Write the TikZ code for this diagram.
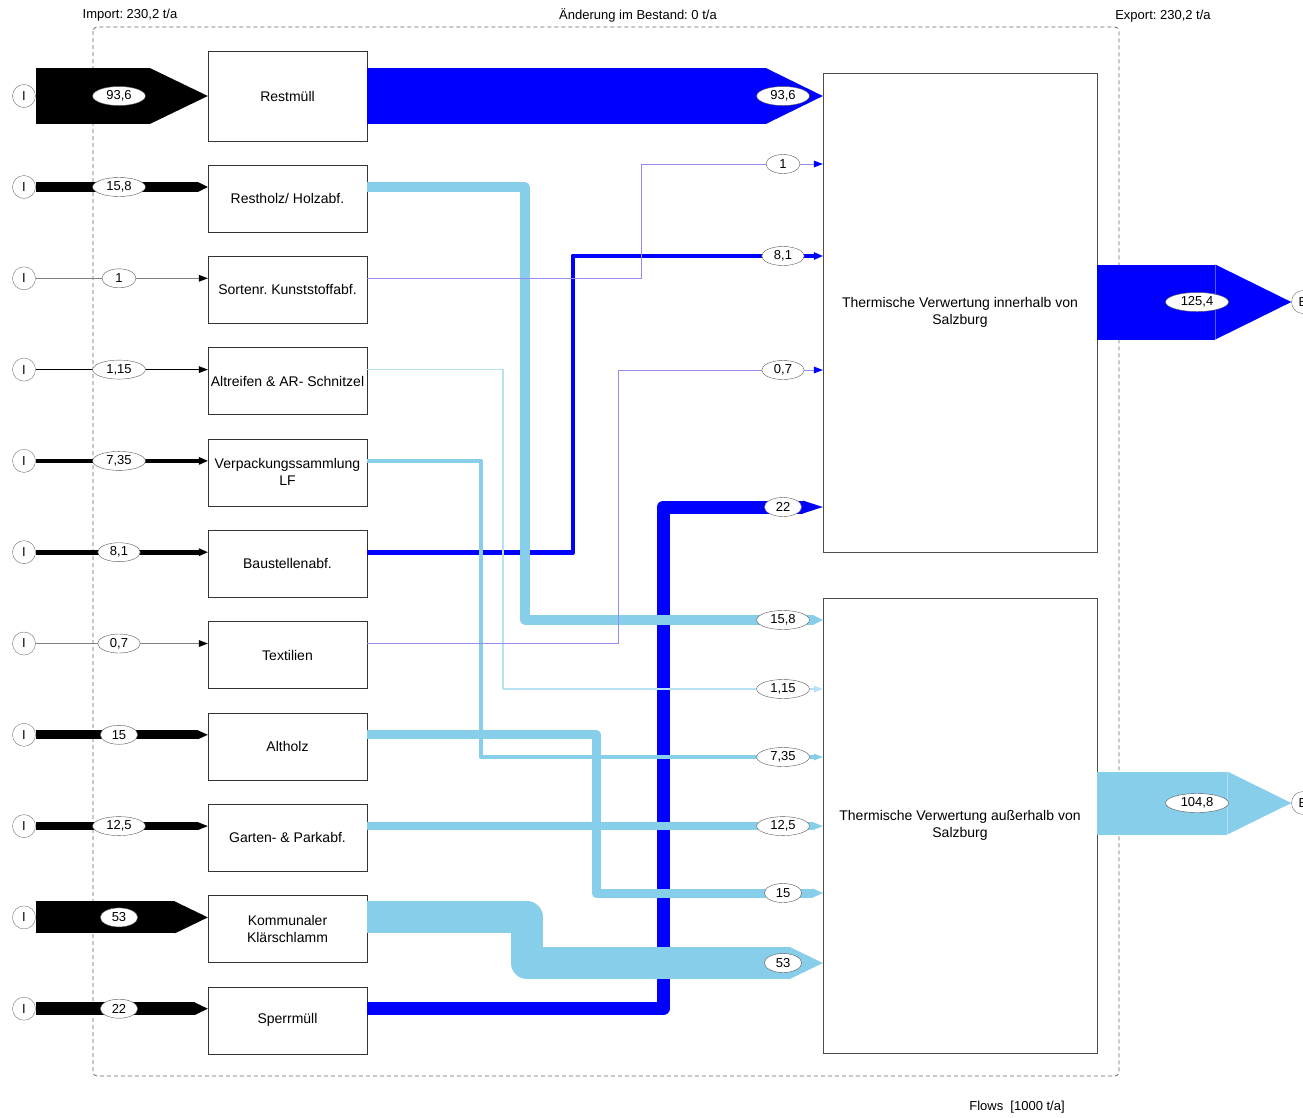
\documentclass[tikz,border=0pt]{standalone}
\usepackage{fontspec}
\setmainfont{Liberation Sans}
\usetikzlibrary{arrows.meta,shapes.geometric}
\frenchspacing

\definecolor{flowblue}{RGB}{0,0,255}
\definecolor{flowsky}{RGB}{135,206,235}
\definecolor{thinblue}{RGB}{150,140,240}

\begin{document}
\begin{tikzpicture}[x=1pt,y=-1pt]
\tikzstyle{proc} = [rectangle, draw=black!80, minimum width=159pt, minimum height=67pt, inner sep=1pt, align=center, font=\fontsize{14}{17}\selectfont, node distance=91.3pt]
\tikzstyle{sink} = [rectangle, draw=black!70, minimum width=274pt, align=center, font=\fontsize{14}{17}\selectfont]
\tikzstyle{src} = [circle, draw=black!55, fill=white, minimum size=23pt, inner sep=0pt, font=\fontsize{13}{15}\selectfont]
\tikzstyle{val} = [ellipse, draw=black!65, fill=white, minimum width=34pt, minimum height=19pt, inner xsep=6pt, inner ysep=0pt, font=\fontsize{13}{15}\selectfont]
\tikzstyle{info} = [font=\fontsize{13}{15}\selectfont]
\tikzstyle{imp} = [draw=black, line join=round]
\tikzstyle{thinimp} = [draw=black!50, line width=1pt, -{Triangle[length=9pt, width=7pt, line width=0pt, color=black]}]
\tikzstyle{bflow} = [draw=flowblue, line join=round]
\tikzstyle{sflow} = [draw=flowsky, line join=round]
\tikzstyle{thinflow} = [draw=thinblue, line width=1pt, -{Triangle[length=9pt, width=7pt, line width=0pt, color=flowblue]}]
\tikzset{tiphead/.style 2 args={-{Triangle[length=#1pt, width=#2pt, line width=0pt]}}}

\useasboundingbox (0,0) rectangle (1303,1117);
\fill[white] (0,0) rectangle (1303,1117);

% Systemgrenze
\draw[black!60, line width=0.8pt, dash pattern=on 4pt off 3pt, rounded corners=4pt] (93,27) rectangle (1119,1076);
\node (import) [info] at (130,15) {Import: 230,2 t/a};
\node (lager) [info] at (638,15) {Änderung im Bestand: 0 t/a};
\node (export) [info] at (1163,16) {Export: 230,2 t/a};
\node (einheit) [info] at (1017,1107) {Flows\ \ [1000 t/a]};

% Prozesse
\node (restm) [proc, minimum height=90pt] at (287.5,96) {Restmüll};
\node (restholz) [proc, node distance=102.5pt, below of=restm] {Restholz/ Holzabf.};
\node (kunst) [proc, below of=restholz] {Sortenr. Kunststoffabf.};
\node (reifen) [proc, below of=kunst] {Altreifen \& AR- Schnitzel};
\node (verpack) [proc, below of=reifen] {Verpackungssammlung\\LF};
\node (bau) [proc, below of=verpack] {Baustellenabf.};
\node (textil) [proc, below of=bau] {Textilien};
\node (altholz) [proc, below of=textil] {Altholz};
\node (garten) [proc, below of=altholz] {Garten- \& Parkabf.};
\node (klaer) [proc, below of=garten] {Kommunaler\\Klärschlamm};
\node (sperr) [proc, below of=klaer] {Sperrmüll};

\node (tvin) [sink, minimum height=479pt] at (960,312.5) {Thermische Verwertung innerhalb von\\Salzburg};
\node (tvaus) [sink, minimum height=455pt, node distance=513pt, below of=tvin] {Thermische Verwertung außerhalb von\\Salzburg};

% Importe / Exporte
\node (i1) [src, node distance=263.5pt, left of=restm] {I};
\node (i2) [src, node distance=263.5pt, left of=restholz, yshift=11.5pt] {I};
\node (i3) [src, node distance=263.5pt, left of=kunst, yshift=11.5pt] {I};
\node (i4) [src, node distance=263.5pt, left of=reifen, yshift=11.5pt] {I};
\node (i5) [src, node distance=263.5pt, left of=verpack, yshift=11.5pt] {I};
\node (i6) [src, node distance=263.5pt, left of=bau, yshift=11.5pt] {I};
\node (i7) [src, node distance=263.5pt, left of=textil, yshift=11.5pt] {I};
\node (i8) [src, node distance=263.5pt, left of=altholz, yshift=11.5pt] {I};
\node (i9) [src, node distance=263.5pt, left of=garten, yshift=11.5pt] {I};
\node (i10) [src, node distance=263.5pt, left of=klaer, yshift=11.5pt] {I};
\node (i11) [src, node distance=263.5pt, left of=sperr, yshift=11.5pt] {I};
\node (e1) [src] at (1303,302) {E};
\node (e2) [src] at (1303,803) {E};

\draw[imp, line width=56pt, tiphead={58}{56}] (i1) -- (restm.west);
\draw[imp, line width=9.5pt, tiphead={10}{10}] (i2) -- (i2 -| restholz.west);
\draw[thinimp] (i3) -- (i3 -| kunst.west);
\draw[imp, line width=1.2pt, tiphead={9}{7}] (i4) -- (i4 -| reifen.west);
\draw[imp, line width=4.4pt, tiphead={9}{8}] (i5) -- (i5 -| verpack.west);
\draw[imp, line width=4.9pt, tiphead={9}{8}] (i6) -- (i6 -| bau.west);
\draw[thinimp] (i7) -- (i7 -| textil.west);
\draw[imp, line width=9pt, tiphead={10}{9}] (i8) -- (i8 -| altholz.west);
\draw[imp, line width=7.5pt, tiphead={10}{8}] (i9) -- (i9 -| garten.west);
\draw[imp, line width=32pt, tiphead={33}{32}] (i10) -- (i10 -| klaer.west);
\draw[imp, line width=12.5pt, tiphead={13}{12.5}] (i11) -- (i11 -| sperr.west);

% Fluesse nach innerhalb
\draw[bflow, line width=56pt, tiphead={57}{56}] (restm.east) -- (restm -| tvin.west);
\draw[bflow, line width=4.9pt, tiphead={9}{8}] (i6 -| bau.east) -| (573,256) -- (tvin.west |- 0,256);
\draw[bflow, line width=13pt, tiphead={20}{13}] (i11 -| sperr.east) -| (663,507) -- (tvin.west |- 0,507);

% Fluesse nach ausserhalb
\draw[sflow, line width=9.5pt, tiphead={10}{10}] (i2 -| restholz.east) -| (525,620) -- (tvaus.west |- 0,620);
\draw[sflow, draw=flowsky!60, line width=1.2pt, tiphead={9}{7}] (i4 -| reifen.east) -| (503,689) -- (tvaus.west |- 0,689);
\draw[sflow, line width=4.4pt, tiphead={9}{7}] (i5 -| verpack.east) -| (481,757) -- (tvaus.west |- 0,757);
\draw[sflow, line width=9pt, tiphead={10}{9}] (i8 -| altholz.east) -| (596,893) -- (tvaus.west |- 0,893);
\draw[sflow, line width=7.5pt, tiphead={10}{8}] (i9 -| garten.east) -- (i9 -| tvaus.west);
\draw[sflow, line width=32pt, tiphead={33}{32}] (i10 -| klaer.east) -| (527,963) -- (tvaus.west |- 0,963);

\draw[thinflow] (i3 -| kunst.east) -| (641,164) -- (tvin.west |- 0,164);
\draw[thinflow] (i7 -| textil.east) -| (618,370) -- (tvin.west |- 0,370);

\draw[bflow, line width=75pt, tiphead={76}{75}] (tvin.east |- e1) -- (e1);
\draw[sflow, line width=63pt, tiphead={64}{63}] (tvaus.east |- e2) -- (e2);

% Werte
\node (n1) [val] at (i1 -| 119,0) {93,6};
\node (n2) [val] at (i2 -| 119,0) {15,8};
\node (n3) [val] at (i3 -| 119,0) {1};
\node (n4) [val] at (i4 -| 119,0) {1,15};
\node (n5) [val] at (i5 -| 119,0) {7,35};
\node (n6) [val] at (i6 -| 119,0) {8,1};
\node (n7) [val] at (i7 -| 119,0) {0,7};
\node (n8) [val] at (i8 -| 119,0) {15};
\node (n9) [val] at (i9 -| 119,0) {12,5};
\node (n10) [val] at (i10 -| 119,0) {53};
\node (n11) [val] at (i11 -| 119,0) {22};

\node (m1) [val] at (restm -| 783,0) {93,6};
\node (m2) [val] at (783,164) {1};
\node (m3) [val] at (783,256) {8,1};
\node (m4) [val] at (783,370) {0,7};
\node (m5) [val] at (783,507) {22};
\node (m6) [val] at (783,620) {15,8};
\node (m7) [val] at (783,689) {1,15};
\node (m8) [val] at (783,757) {7,35};
\node (m9) [val] at (i9 -| 783,0) {12,5};
\node (m10) [val] at (783,893) {15};
\node (m11) [val] at (783,963) {53};

\node (x1) [val] at (e1 -| 1197,0) {125,4};
\node (x2) [val] at (e2 -| 1197,0) {104,8};
\end{tikzpicture}
\end{document}
